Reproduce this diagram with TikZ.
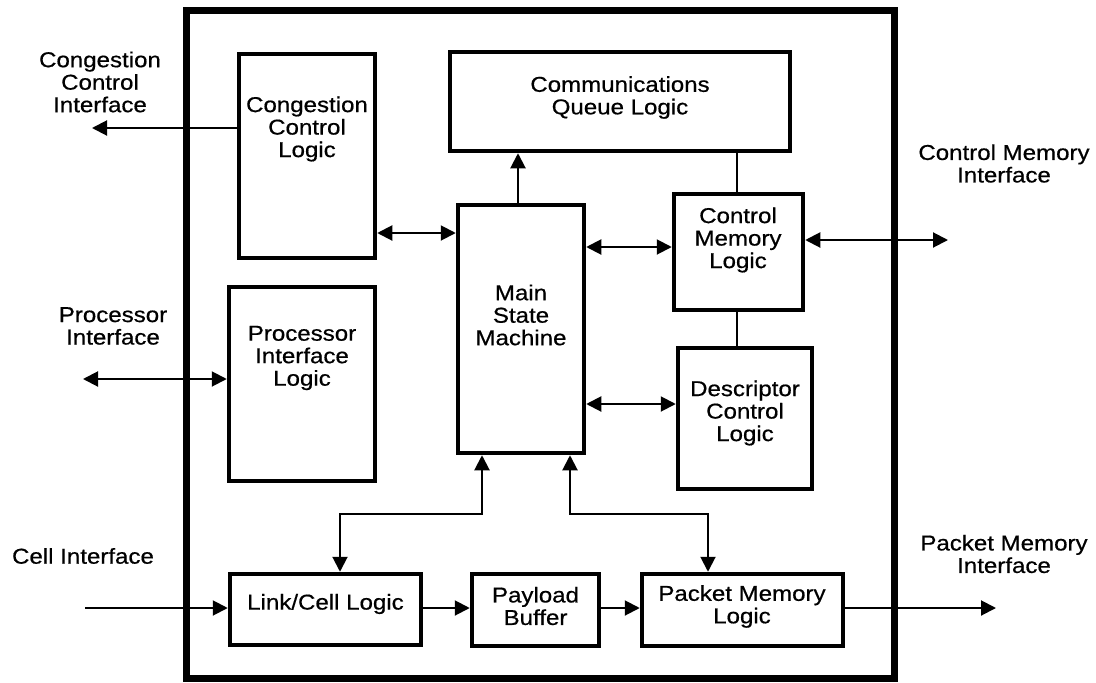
\documentclass[tikz,border=0pt]{standalone}
\usepackage{fontspec}
\setmainfont{Liberation Sans}[FakeStretch=1.12,FakeBold=0.6]
\usetikzlibrary{arrows.meta}
\begin{document}
\begin{tikzpicture}[x=1pt,y=-1pt,
  blk/.style={draw, line width=4.5pt, inner sep=0pt},
  frame/.style={draw, line width=7pt, inner sep=0pt},
  txt/.style={font=\fontsize{21.5}{22.5}\selectfont, align=center, inner sep=0pt},
  con/.style={line width=2pt},
  arr/.style={con, -{Triangle[length=15pt,width=15pt]}},
  dbl/.style={con, {Triangle[length=15pt,width=15pt]}-{Triangle[length=15pt,width=15pt]}}]
\useasboundingbox (0,0) rectangle (1096,683);

% chip outline
\node[frame, minimum width=707.5pt, minimum height=668pt] (chip) at (540.25,344) {};

% functional blocks
\node[blk, minimum width=136pt, minimum height=204pt] (ccl) at (307,156) {};
\node[blk, minimum width=340pt, minimum height=99pt]  (cq)  at (620,101.5) {};
\node[blk, minimum width=126pt, minimum height=248pt] (msm) at (521,329) {};
\node[blk, minimum width=129pt, minimum height=116pt] (cml) at (738.5,252) {};
\node[blk, minimum width=134pt, minimum height=141pt] (dcl) at (745,418.5) {};
\node[blk, minimum width=146pt, minimum height=194pt] (pil) at (302,384) {};
\node[blk, minimum width=191pt, minimum height=71pt]  (lc)  at (325.5,609.5) {};
\node[blk, minimum width=127pt, minimum height=72pt]  (pb)  at (535.5,610) {};
\node[blk, minimum width=201pt, minimum height=72pt]  (pml) at (742.5,610) {};

% block captions
\node[txt] (ccl-t) at (307,129) {Congestion\\Control\\Logic};
\node[txt] (cq-t)  at (620,97.5) {Communications\\Queue Logic};
\node[txt] (msm-t) at (521,315) {Main\\State\\Machine};
\node[txt] (cml-t) at (738,240) {Control\\Memory\\Logic};
\node[txt] (dcl-t) at (745,413) {Descriptor\\Control\\Logic};
\node[txt] (pil-t) at (302,358) {Processor\\Interface\\Logic};
\node[txt] (lc-t)  at (325.5,604) {Link/Cell Logic};
\node[txt] (pb-t)  at (535.5,606) {Payload\\Buffer};
\node[txt] (pml-t) at (742,606.5) {Packet Memory\\Logic};

% external interface labels
\node[txt] (cci-t) at (100,82)    {Congestion\\Control\\Interface};
\node[txt] (pri-t) at (113,326)   {Processor\\Interface};
\node[txt] (cei-t) at (83,556)    {Cell Interface};
\node[txt] (cmi-t) at (1004,163.5){Control Memory\\Interface};
\node[txt] (pmi-t) at (1004,554)  {Packet Memory\\Interface};

% free ends of the interface lines
\coordinate (cci) at (92,128);
\coordinate (pri) at (83,379);
\coordinate (cei) at (85,608);
\coordinate (cmi) at (948,240);
\coordinate (pmi) at (996,608);

% interface connections
\draw[arr] (ccl.west |- cci) -- (cci);
\draw[dbl] (pri) -- (pil.west |- pri);
\draw[arr] (cei) -- (lc.west |- cei);
\draw[dbl] (cml.east |- cmi) -- (cmi);
\draw[arr] (pml.east |- pmi) -- (pmi);

% internal connections
\draw[dbl] (ccl.east |- 0,233) -- (msm.west |- 0,233);
\draw[arr] (msm.north -| 518,0) -- (cq.south -| 518,0);
\draw[con] (cq.south -| 737,0) -- (cml.north -| 737,0);
\draw[dbl] (msm.east |- 0,247) -- (cml.west |- 0,247);
\draw[con] (cml.south -| 737,0) -- (dcl.north -| 737,0);
\draw[dbl] (msm.east |- 0,404) -- (dcl.west |- 0,404);
\draw[arr] (lc.east |- 0,608) -- (pb.west |- 0,608);
\draw[arr] (pb.east |- 0,608) -- (pml.west |- 0,608);

% state machine to link and packet memory
\coordinate (ja) at (340,514);
\coordinate (jb) at (482,514);
\coordinate (jc) at (570,514);
\coordinate (jd) at (708,514);
\draw[dbl] (lc.north -| ja) -- (ja) -- (jb) -- (msm.south -| jb);
\draw[dbl] (msm.south -| jc) -- (jc) -- (jd) -- (pml.north -| jd);
\end{tikzpicture}
\end{document}
